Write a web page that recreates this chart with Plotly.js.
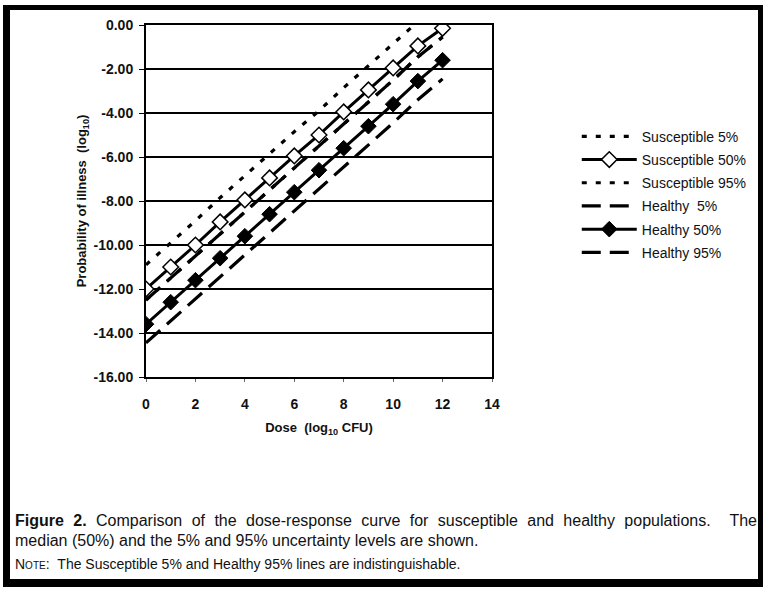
<!DOCTYPE html>
<html>
<head>
<meta charset="utf-8">
<script src="https://cdn.plot.ly/plotly-3.0.1.min.js"></script>
<style>
  html, body { margin:0; padding:0; background:#fff; }
  #wrap { position:relative; width:767px; height:590px; overflow:hidden; background:#fff; }
  #chart { position:absolute; left:0; top:0; width:767px; height:590px; }
  #frame { position:absolute; left:3px; top:5px; width:760px; height:582px; box-sizing:border-box;
           border-left:7px solid #000; border-top:5px solid #000; border-right:5px solid #000; border-bottom:8px solid #000;
           pointer-events:none; }
  .cap { position:absolute; left:15px; width:742px; font-family:"Liberation Sans",Arial,sans-serif;
         color:#111; white-space:nowrap; }
  #cap1 { top:512px; font-size:16px; text-align:justify; text-align-last:justify; white-space:normal; }
  #cap2 { top:532px; font-size:16px; }
  #cap3 { top:556px; font-size:14px; }
  .sc { font-variant:small-caps; }
</style>
</head>
<body>
<div id="wrap">
  <div id="chart"></div>
  <div class="cap" id="cap1"><b>Figure 2.</b> Comparison of the dose-response curve for susceptible and healthy populations. &nbsp;The</div>
  <div class="cap" id="cap2">median (50%) and the 5% and 95% uncertainty levels are shown.</div>
  <div class="cap" id="cap3"><span class="sc">Note</span>: &nbsp;The Susceptible 5% and Healthy 95% lines are indistinguishable.</div>
  <div id="frame"></div>
</div>
<script>
// Dose (log10 CFU)
var dose = [0, 1, 2, 3, 4, 5, 6, 7, 8, 9, 10, 11, 12];

// Probability of illness (log10)
var susceptible5  = [-12.5, -11.5, -10.5, -9.5, -8.5, -7.5, -6.5, -5.5, -4.5, -3.5, -2.5, -1.45, -0.55];
var susceptible50 = [-12.0, -11.0, -10.0, -8.95, -7.95, -6.95, -5.95, -5.0, -3.95, -2.95, -1.95, -0.95, -0.15];
var susceptible95 = [-10.9, -9.9, -8.9, -7.85, -6.85, -5.85, -4.85, -3.9, -2.85, -1.85, -0.85, 0.15, 0.95];
var healthy5      = [-14.45, -13.45, -12.45, -11.45, -10.45, -9.45, -8.45, -7.45, -6.45, -5.45, -4.45, -3.4, -2.45];
var healthy50     = [-13.6, -12.6, -11.6, -10.6, -9.6, -8.6, -7.6, -6.6, -5.6, -4.6, -3.6, -2.55, -1.6];
var healthy95     = [-12.5, -11.5, -10.5, -9.5, -8.5, -7.5, -6.5, -5.5, -4.5, -3.5, -2.5, -1.45, -0.55];

var seriesNames = ['Susceptible 5%', 'Susceptible 50%', 'Susceptible 95%', 'Healthy  5%', 'Healthy 50%', 'Healthy 95%'];

var yTickVals = [0, -2, -4, -6, -8, -10, -12, -14, -16];
var yTickText = ['0.00', '-2.00', '-4.00', '-6.00', '-8.00', '-10.00', '-12.00', '-14.00', '-16.00'];
var xTickVals = [0, 2, 4, 6, 8, 10, 12, 14];

var shortDash = '5px,9px';
var longDash = '19px,9px';

var traces = [
  { x: dose, y: susceptible5, name: seriesNames[0], mode: 'lines', legendgroup: 'a',
    line: { color: '#000', width: 3.2, dash: shortDash } },
  { x: dose, y: susceptible50, name: seriesNames[1], mode: 'lines+markers', legendgroup: 'b',
    line: { color: '#000', width: 3 },
    marker: { symbol: 'diamond', size: 12, color: '#fff', line: { color: '#000', width: 1.5 } } },
  { x: dose, y: susceptible95, name: seriesNames[2], mode: 'lines', legendgroup: 'c',
    line: { color: '#000', width: 3.2, dash: shortDash } },
  { x: dose, y: healthy5, name: seriesNames[3], mode: 'lines', legendgroup: 'd',
    line: { color: '#000', width: 3.2, dash: longDash } },
  { x: dose, y: healthy50, name: seriesNames[4], mode: 'lines+markers', legendgroup: 'e',
    line: { color: '#000', width: 3 },
    marker: { symbol: 'diamond', size: 12, color: '#000', line: { color: '#000', width: 1 } } },
  { x: dose, y: healthy95, name: seriesNames[5], mode: 'lines', legendgroup: 'f',
    line: { color: '#000', width: 3.2, dash: longDash } }
];

var boldFont = { family: 'Arial, "Liberation Sans", sans-serif', size: 14, color: '#111', weight: 700 };
var titleFont = { family: 'Arial, "Liberation Sans", sans-serif', size: 13, color: '#111', weight: 700 };

var layout = {
  width: 767, height: 590,
  margin: { l: 146, r: 275, t: 25, b: 213, pad: 0 },
  paper_bgcolor: '#fff', plot_bgcolor: '#fff',
  showlegend: true,
  legend: {
    x: 1.245, xanchor: 'left', y: 0.728, yanchor: 'top',
    font: { family: 'Arial, "Liberation Sans", sans-serif', size: 14, color: '#111' },
    itemwidth: 55, tracegroupgap: 2, traceorder: 'grouped',
    bgcolor: 'rgba(0,0,0,0)', borderwidth: 0
  },
  xaxis: {
    range: [0, 14], tickvals: xTickVals, showgrid: false, zeroline: false,
    showline: true, linecolor: '#000', linewidth: 2, mirror: true,
    ticks: 'outside', ticklen: 3, tickcolor: '#666', tickwidth: 1,
    ticklabelstandoff: 10,
    tickfont: boldFont,
    title: { text: 'Dose  (log<sub>10</sub> CFU)', font: titleFont, standoff: 12 }
  },
  yaxis: {
    range: [-16, 0], tickvals: yTickVals, ticktext: yTickText,
    showgrid: true, gridcolor: '#000', gridwidth: 1.5, zeroline: false,
    showline: true, linecolor: '#000', linewidth: 2, mirror: true,
    ticks: 'outside', ticklen: 5, tickcolor: '#000', tickwidth: 1,
    ticklabelstandoff: 3,
    tickfont: boldFont,
    title: { text: 'Probability of illness  (log<sub>10</sub>)', font: titleFont, standoff: 4 }
  }
};

Plotly.newPlot('chart', traces, layout, { displayModeBar: false, staticPlot: true });
</script>
</body>
</html>
